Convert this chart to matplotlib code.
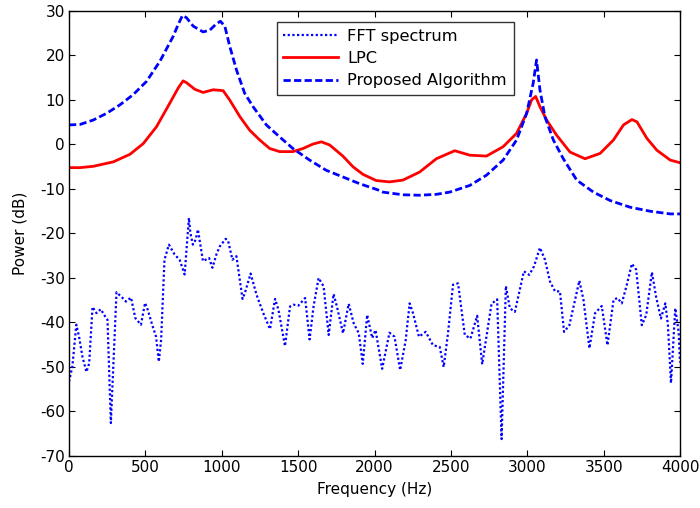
import matplotlib
matplotlib.use("Agg")
import matplotlib.pyplot as plt
import numpy as np

plt.rcParams['font.family'] = ['DejaVu Sans']
plt.rcParams['axes.unicode_minus'] = False

# FFT spectrum (Hz, dB)
fft_freq = [0, 22, 48, 66, 88, 114, 132, 154, 180, 208, 230, 252, 274, 311, 351, 373, 406, 434, 471, 498,
            515, 548, 570, 588, 603, 625, 654, 691, 724, 757, 785, 794, 811, 829, 844, 877, 917, 939, 965, 987,
            1026, 1042, 1070, 1096, 1118, 1136, 1151, 1189, 1228, 1272, 1316, 1349, 1371, 1414, 1447, 1469, 1502, 1546, 1575, 1601,
            1634, 1667, 1700, 1732, 1754, 1794, 1831, 1864, 1897, 1923, 1952, 1985, 2007, 2050, 2098, 2131, 2168, 2204, 2230, 2252,
            2291, 2335, 2383, 2427, 2453, 2481, 2514, 2547, 2591, 2628, 2672, 2705, 2766, 2803, 2832, 2847, 2860, 2886, 2919, 2978,
            3013, 3044, 3083, 3116, 3149, 3182, 3214, 3241, 3276, 3313, 3341, 3368, 3407, 3444, 3488, 3525, 3565, 3591, 3619, 3652,
            3685, 3713, 3750, 3779, 3816, 3844, 3875, 3904, 3921, 3941, 3969, 3991, 4000]
fft_db = [-53.3, -49.9, -40.5, -43.2, -47.7, -51.1, -49.2, -36.5, -37.9, -37.0, -38.3, -39.4, -62.6, -33.2, -34.5, -35.3, -34.4, -39.0, -40.5, -35.6,
          -37.1, -40.9, -43.2, -48.8, -43.9, -25.9, -22.5, -24.7, -25.9, -29.2, -16.5, -19.8, -22.5, -21.4, -19.1, -26.2, -25.5, -27.7, -24.7, -22.9,
          -21.2, -21.7, -25.9, -25.1, -30.4, -34.7, -33.4, -29.0, -33.8, -37.9, -41.5, -34.7, -37.1, -45.3, -36.4, -36.0, -36.2, -34.5, -43.8, -36.4,
          -30.0, -31.9, -42.8, -33.6, -36.4, -42.4, -35.8, -40.2, -42.4, -49.3, -38.3, -43.5, -41.7, -50.4, -42.3, -43.2, -50.7, -44.0, -35.7, -37.9,
          -43.2, -42.1, -45.1, -45.5, -50.0, -42.5, -31.5, -31.2, -42.8, -43.6, -38.5, -49.4, -35.8, -34.8, -66.2, -47.7, -31.8, -36.8, -37.6, -28.5,
          -29.3, -27.4, -23.2, -25.9, -30.8, -33.0, -33.0, -42.1, -40.6, -34.9, -30.6, -34.9, -45.8, -37.9, -36.3, -45.1, -34.9, -34.5, -35.7, -31.5,
          -26.8, -28.1, -40.6, -38.3, -28.7, -34.3, -39.1, -35.7, -40.6, -53.6, -36.8, -42.1, -49.0]

# LPC envelope
lpc_freq = [0, 72, 159, 290, 399, 486, 573, 660, 715, 747, 769, 824, 878, 944, 1009, 1052, 1118, 1183, 1249, 1314,
            1379, 1466, 1532, 1597, 1652, 1706, 1793, 1859, 1924, 2011, 2098, 2186, 2295, 2405, 2525, 2624, 2733, 2842, 2930, 2996,
            3028, 3055, 3083, 3127, 3192, 3280, 3378, 3477, 3564, 3630, 3685, 3718, 3783, 3849, 3936, 4000]
lpc_db = [-5.2, -5.2, -4.9, -3.9, -2.2, 0.2, 4.0, 9.3, 12.7, 14.3, 13.9, 12.4, 11.7, 12.3, 12.1, 10.0, 6.3, 3.2, 1.0, -0.9,
          -1.6, -1.6, -0.9, 0.1, 0.6, -0.1, -2.6, -5.0, -6.7, -8.1, -8.4, -8.0, -6.2, -3.2, -1.4, -2.4, -2.6, -0.5, 2.5, 7.0,
          10.0, 10.8, 8.5, 5.5, 2.1, -1.7, -3.2, -2.0, 1.0, 4.4, 5.6, 5.1, 1.4, -1.3, -3.5, -4.1]

# Proposed algorithm envelope
prop_freq = [0, 72, 159, 246, 333, 420, 508, 595, 682, 715, 743, 769, 813, 878, 922, 961, 991, 1020, 1052, 1096,
             1150, 1205, 1292, 1379, 1466, 1575, 1684, 1793, 1902, 2022, 2055, 2186, 2295, 2405, 2492, 2624, 2733, 2842, 2930, 2996,
             3039, 3061, 3083, 3116, 3171, 3236, 3324, 3433, 3543, 3674, 3805, 3936, 4000]
prop_db = [4.4, 4.5, 5.5, 7.0, 8.9, 11.2, 14.2, 18.7, 24.3, 27.0, 29.0, 28.5, 26.6, 25.3, 25.7, 27.0, 27.7, 26.6, 22.1, 16.8,
           11.5, 8.5, 4.4, 1.7, -0.9, -3.5, -5.8, -7.3, -8.8, -10.2, -10.7, -11.3, -11.4, -11.2, -10.7, -9.2, -6.9, -3.5, 1.0, 7.0,
           13.8, 19.0, 12.3, 6.2, 1.0, -3.2, -8.0, -10.7, -12.6, -14.1, -15.0, -15.6, -15.6]

xticks = [0, 500, 1000, 1500, 2000, 2500, 3000, 3500, 4000]
yticks = [-70, -60, -50, -40, -30, -20, -10, 0, 10, 20, 30]

FS = 11
LFS = 11.7

fig = plt.figure(figsize=(7.0, 5.08), dpi=100)
ax = fig.add_axes([69/700, (508-456)/508, (680-69)/700, (456-11)/508])

ax.plot(fft_freq, fft_db, color='#0000ff', linestyle=(0, (1, 1.1)), linewidth=1.6, label='FFT spectrum')
ax.plot(lpc_freq, lpc_db, color='#ff0000', linestyle='-', linewidth=2.0, label='LPC')
ax.plot(prop_freq, prop_db, color='#0000ff', linestyle=(0, (2.6, 1.2)), linewidth=2.0, label='Proposed Algorithm')

ax.set_xlim(0, 4000)
ax.set_ylim(-70, 30)
ax.set_xticks(xticks)
ax.set_yticks(yticks)
ax.tick_params(direction='in', length=4.5, labelsize=FS, top=True, right=True, width=0.8, pad=3)
for s in ax.spines.values():
    s.set_linewidth(1.0)
ax.set_xlabel('Frequency (Hz)', fontsize=FS, labelpad=5)
ax.set_ylabel('Power (dB)', fontsize=FS, labelpad=9)

leg = ax.legend(loc='upper left', bbox_to_anchor=(0.340, 0.975), fontsize=LFS, frameon=True,
                fancybox=False, edgecolor='black', handlelength=3.4, handletextpad=0.55,
                borderpad=0.4, labelspacing=0.45, borderaxespad=0)
leg.get_frame().set_linewidth(1.0)

fig.savefig('out.png', dpi=100)
